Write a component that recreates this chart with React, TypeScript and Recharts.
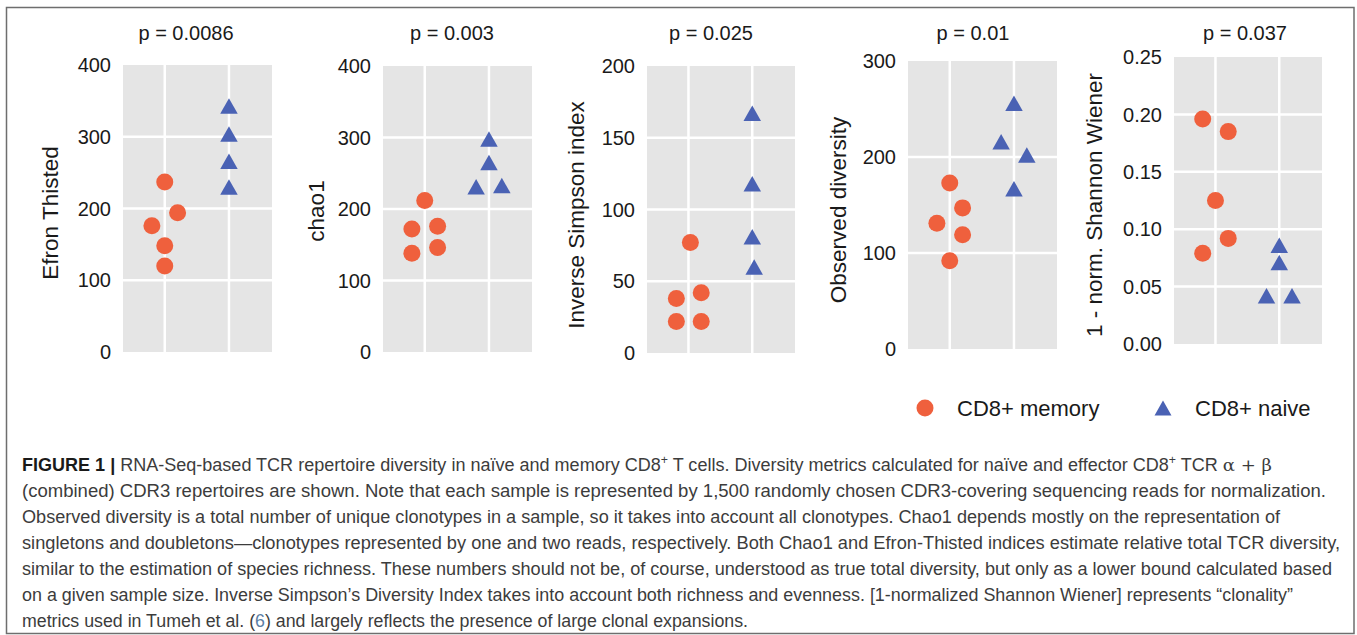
import React from 'react';
import { ScatterChart, Scatter, XAxis, YAxis, CartesianGrid, ReferenceLine } from 'recharts';

const FONT = '"Liberation Sans", Arial, Helvetica, sans-serif';
const MEMORY_COLOR = '#EF603D';
const NAIVE_COLOR = '#4A62B4';
const PANEL_BG = '#E5E5E5';

// x = column (0 memory, 1 naive) plus the swarm offset, y = metric value
const efronMemory = [
  { x: 0, y: 237 }, { x: 0.2, y: 194 }, { x: -0.2, y: 176 }, { x: 0, y: 148 }, { x: 0, y: 120 },
];
const efronNaive = [
  { x: 1, y: 343 }, { x: 1, y: 304 }, { x: 1, y: 266 }, { x: 1, y: 230 },
];

const chaoMemory = [
  { x: 0, y: 212 }, { x: -0.2, y: 172 }, { x: 0.2, y: 176 }, { x: -0.2, y: 138 }, { x: 0.2, y: 146 },
];
const chaoNaive = [
  { x: 1, y: 298 }, { x: 1, y: 265 }, { x: 0.8, y: 231 }, { x: 1.2, y: 233 },
];

const simpsonMemory = [
  { x: 0.03, y: 77 }, { x: -0.19, y: 38 }, { x: 0.2, y: 42 }, { x: -0.19, y: 22 }, { x: 0.2, y: 22 },
];
const simpsonNaive = [
  { x: 1, y: 167 }, { x: 1, y: 118 }, { x: 1, y: 81 }, { x: 1.03, y: 60 },
];

const observedMemory = [
  { x: 0, y: 173 }, { x: 0.2, y: 147 }, { x: -0.2, y: 131 }, { x: 0.2, y: 119 }, { x: 0, y: 92 },
];
const observedNaive = [
  { x: 1, y: 256 }, { x: 0.8, y: 216 }, { x: 1.2, y: 202 }, { x: 1, y: 167 },
];

const shannonMemory = [
  { x: -0.2, y: 0.196 }, { x: 0.2, y: 0.185 }, { x: 0, y: 0.125 }, { x: 0.2, y: 0.092 }, { x: -0.2, y: 0.079 },
];
const shannonNaive = [
  { x: 1, y: 0.086 }, { x: 1, y: 0.071 }, { x: 0.8, y: 0.042 }, { x: 1.2, y: 0.042 },
];

const pValues = ['p = 0.0086', 'p = 0.003', 'p = 0.025', 'p = 0.01', 'p = 0.037'];
const yLabels = ['Efron Thisted', 'chao1', 'Inverse Simpson index', 'Observed diversity', '1 - norm. Shannon Wiener'];
const countTicks = [0, 100, 200, 300, 400];
const simpsonTicks = [0, 50, 100, 150, 200];
const observedTicks = [0, 100, 200, 300];
const shannonTicks = [0, 0.05, 0.1, 0.15, 0.2, 0.25];
const groupColumns = [0, 1];

const legendNames = ['CD8+ memory', 'CD8+ naive'];

const X_DOMAIN = [-0.65, 1.67];
const AXIS_W = 110;

const panels = [
  { memory: efronMemory, naive: efronNaive, ticks: countTicks, left: 123, right: 272, top: 65, bottom: 352, titleX: 186, labelX: 50, labelY: 213, dec: 0 },
  { memory: chaoMemory, naive: chaoNaive, ticks: countTicks, left: 383, right: 532, top: 66, bottom: 352, titleX: 452, labelX: 316, labelY: 211, dec: 0 },
  { memory: simpsonMemory, naive: simpsonNaive, ticks: simpsonTicks, left: 647, right: 795, top: 66, bottom: 353, titleX: 711, labelX: 576, labelY: 215, dec: 0 },
  { memory: observedMemory, naive: observedNaive, ticks: observedTicks, left: 908, right: 1057, top: 61, bottom: 349, titleX: 973, labelX: 838, labelY: 210, dec: 0 },
  { memory: shannonMemory, naive: shannonNaive, ticks: shannonTicks, left: 1174, right: 1322, top: 57, bottom: 344, titleX: 1245, labelX: 1094, labelY: 205, dec: 2 },
];

const CircleDot = (props: any) => (
  <circle cx={props.cx} cy={props.cy} r={8.5} fill={MEMORY_COLOR} />
);

const TriangleDot = (props: any) => {
  const { cx, cy } = props;
  const s = 17.5;
  const h = 15.5;
  return (
    <polygon
      points={`${cx},${cy - h / 2} ${cx - s / 2},${cy + h / 2} ${cx + s / 2},${cy + h / 2}`}
      fill={NAIVE_COLOR}
    />
  );
};

const Panel = ({ cfg, index }: { cfg: any; index: number }) => {
  const chartLeft = cfg.left - AXIS_W;
  const width = AXIS_W + (cfg.right - cfg.left) + 10;
  const height = cfg.bottom + 10;
  const inner = cfg.ticks.slice(1, -1);

  const renderLabel = () => {
    const cx = cfg.labelX - chartLeft;
    const cy = cfg.labelY;
    return (
      <text
        x={cx}
        y={cy}
        transform={`rotate(-90 ${cx} ${cy})`}
        textAnchor="middle"
        dominantBaseline="central"
        fontSize={22.5}
        fontFamily={FONT}
        fill="#1a1a1a"
      >
        {yLabels[index]}
      </text>
    );
  };

  return (
    <div style={{ position: 'absolute', left: chartLeft, top: 0 }}>
      <ScatterChart width={width} height={height} margin={{ top: cfg.top, right: 10, bottom: 10, left: 0 }}>
        <CartesianGrid
          fill={PANEL_BG}
          stroke="#ffffff"
          strokeWidth={2.5}
          vertical={false}
          horizontalValues={inner}
        />
        <XAxis
          type="number"
          dataKey="x"
          domain={X_DOMAIN}
          ticks={groupColumns}
          tick={false}
          axisLine={false}
          tickLine={false}
          height={0}
          allowDataOverflow
        />
        <YAxis
          type="number"
          dataKey="y"
          domain={[cfg.ticks[0], cfg.ticks[cfg.ticks.length - 1]]}
          ticks={cfg.ticks}
          interval={0}
          width={AXIS_W}
          axisLine={false}
          tickLine={false}
          tickSize={0}
          tickMargin={12}
          tick={{ fontSize: 20, fill: '#1a1a1a', fontFamily: FONT }}
          tickFormatter={(v: number) => v.toFixed(cfg.dec)}
          label={{ content: renderLabel }}
          allowDataOverflow
        />
        {groupColumns.map((c) => (
          <ReferenceLine key={c} x={c} stroke="#ffffff" strokeWidth={2.5} />
        ))}
        <Scatter data={cfg.memory} shape={CircleDot} isAnimationActive={false} />
        <Scatter data={cfg.naive} shape={TriangleDot} isAnimationActive={false} />
      </ScatterChart>
    </div>
  );
};

const CAPTION_X = 22;
const CAPTION_Y0 = 471;
const CAPTION_STEP = 26;
const captionEnds = [1272, 1326, 1280, 1340, 1332, 1293, 748];

const captionLines: React.ReactNode[] = [
  <>
    <tspan fontWeight={700} fill="#1a1a1a">FIGURE 1 | </tspan>
    RNA-Seq-based TCR repertoire diversity in naïve and memory CD8
    <tspan dy={-7} fontSize={12}>+</tspan>
    <tspan dy={7}> T cells. Diversity metrics calculated for naïve and effector CD8</tspan>
    <tspan dy={-7} fontSize={12}>+</tspan>
    <tspan dy={7}> TCR </tspan>
    <tspan fontFamily='"DejaVu Serif", serif'>α + β</tspan>
  </>,
  '(combined) CDR3 repertoires are shown. Note that each sample is represented by 1,500 randomly chosen CDR3-covering sequencing reads for normalization.',
  'Observed diversity is a total number of unique clonotypes in a sample, so it takes into account all clonotypes. Chao1 depends mostly on the representation of',
  'singletons and doubletons—clonotypes represented by one and two reads, respectively. Both Chao1 and Efron-Thisted indices estimate relative total TCR diversity,',
  'similar to the estimation of species richness. These numbers should not be, of course, understood as true total diversity, but only as a lower bound calculated based',
  'on a given sample size. Inverse Simpson’s Diversity Index takes into account both richness and evenness. [1-normalized Shannon Wiener] represents “clonality”',
  <>
    metrics used in Tumeh et al. (<tspan fill="#5b7fa6">6</tspan>) and largely reflects the presence of large clonal expansions.
  </>,
];

const Overlay = () => (
  <svg
    width={1357}
    height={635}
    style={{ position: 'absolute', left: 0, top: 0, pointerEvents: 'none' }}
  >
    <rect x={6.5} y={7.5} width={1347.5} height={626} fill="none" stroke="#6e6e6e" strokeWidth={1.5} />
    {panels.map((p, i) => (
      <text
        key={i}
        x={p.titleX}
        y={40}
        textAnchor="middle"
        fontSize={20}
        fontFamily={FONT}
        fill="#1a1a1a"
      >
        {pValues[i]}
      </text>
    ))}
    {/* legend */}
    <circle cx={925} cy={408} r={8.5} fill={MEMORY_COLOR} />
    <text x={957} y={416} fontSize={22} fontFamily={FONT} fill="#1a1a1a">{legendNames[0]}</text>
    <polygon points="1163,400.5 1154.5,415.5 1171.5,415.5" fill={NAIVE_COLOR} />
    <text x={1195} y={416} fontSize={22} fontFamily={FONT} fill="#1a1a1a">{legendNames[1]}</text>
    {/* caption */}
    {captionLines.map((line, i) => (
      <text
        key={i}
        x={CAPTION_X}
        y={CAPTION_Y0 + i * CAPTION_STEP}
        fontSize={17.5}
        fontFamily={FONT}
        fill="#3c3c3c"
        textLength={captionEnds[i] - CAPTION_X}
        lengthAdjust="spacingAndGlyphs"
      >
        {line}
      </text>
    ))}
  </svg>
);

export default function App() {
  return (
    <div style={{ position: 'absolute', left: 0, top: 0, width: 1357, height: 635, background: '#fff', overflow: 'hidden' }}>
      {panels.map((p, i) => (
        <Panel key={i} cfg={p} index={i} />
      ))}
      <Overlay />
    </div>
  );
}
